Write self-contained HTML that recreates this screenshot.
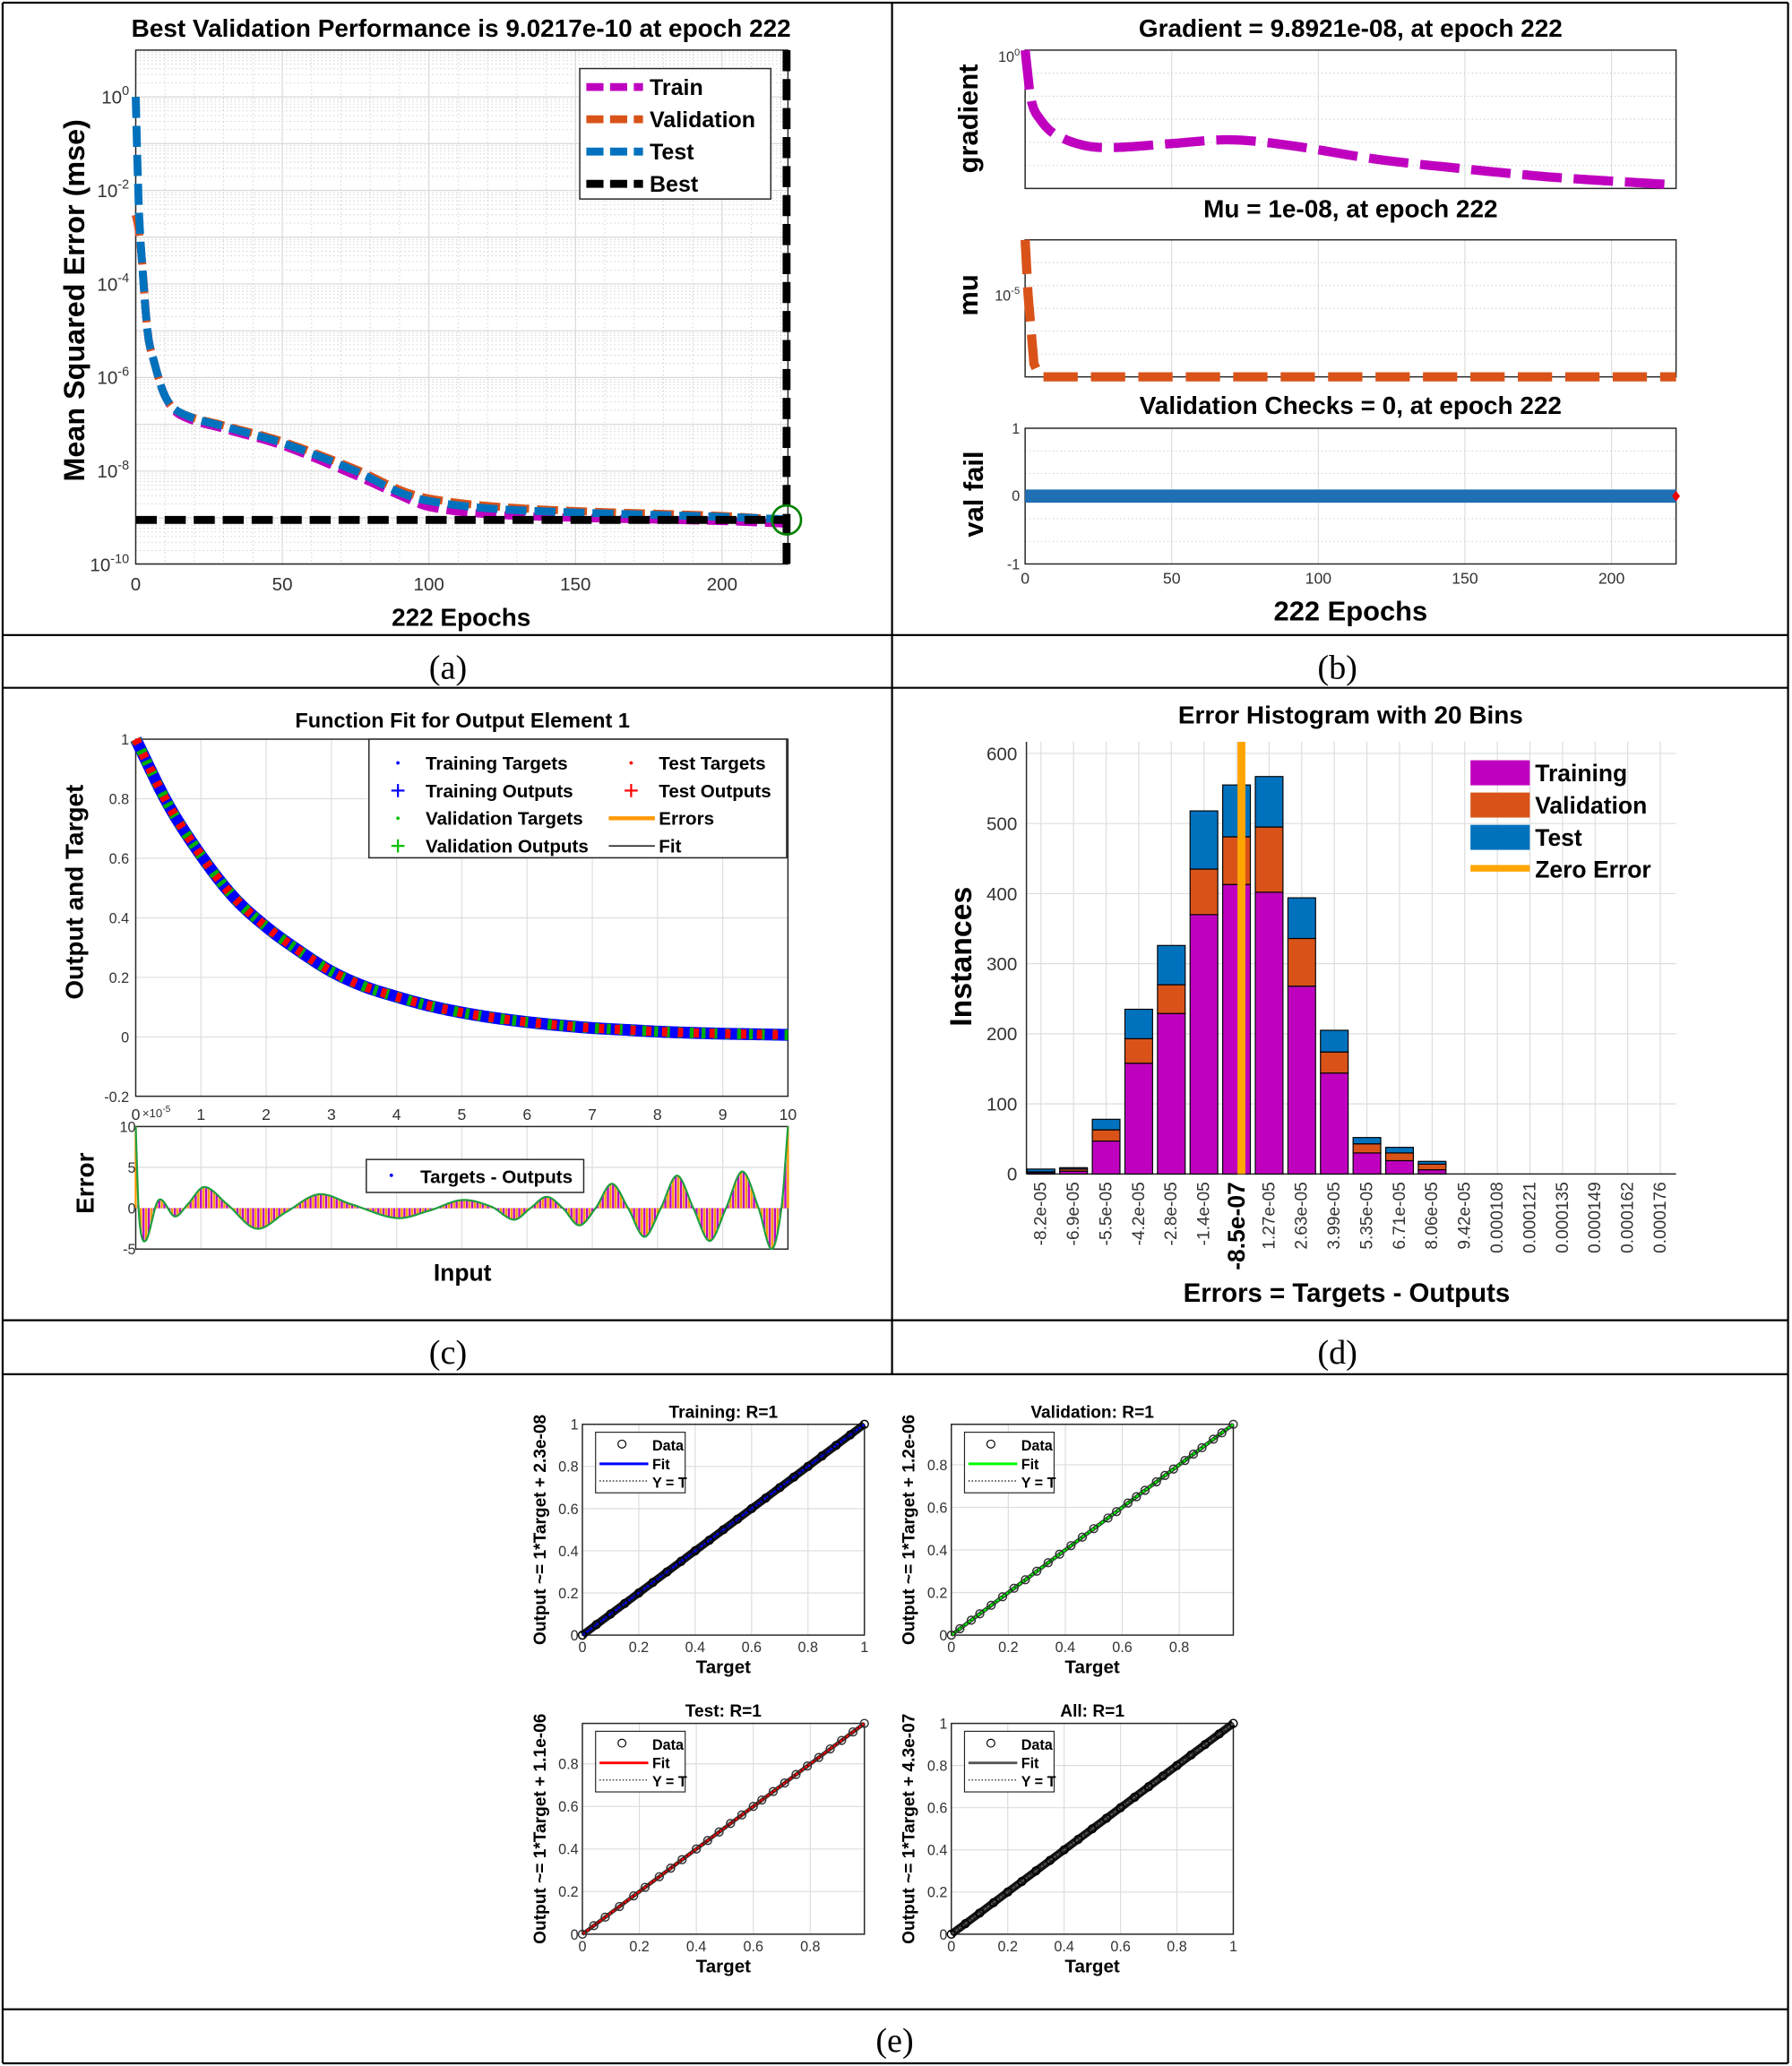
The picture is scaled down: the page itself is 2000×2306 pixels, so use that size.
<!DOCTYPE html>
<html><head><meta charset="utf-8"><title>Neural network training results</title>
<style>
html,body{margin:0;padding:0;background:#fff;}
svg{display:block;font-family:"Liberation Sans",sans-serif;}
</style></head>
<body>
<svg id="fig" xmlns="http://www.w3.org/2000/svg" width="2000" height="2306" viewBox="0 0 1360 1568"></svg>
<script>
// ---------- DATA ----------
const perfEpochs = [0,1,2,4,6,10,15,30,50,75,90,100,120,150,200,222];
const perfTest  = [1.0,5e-3,4e-4,1e-5,2.5e-6,4e-7,1.8e-7,9e-8,4e-8,1e-8,3.5e-9,2.3e-9,1.6e-9,1.3e-9,1.05e-9,9.3e-10];
const perfVal   = [3e-3,1.5e-3,4e-4,1e-5,2.5e-6,4e-7,1.8e-7,9.5e-8,4.3e-8,1.1e-8,4e-9,2.6e-9,1.8e-9,1.4e-9,1.1e-9,9.02e-10];
const perfTrain = [3e-3,1.5e-3,4e-4,1e-5,2.5e-6,4e-7,1.6e-7,8e-8,3.5e-8,8e-9,3e-9,1.7e-9,1.2e-9,1e-9,8.5e-10,7.5e-10];
const bestVal = 9.0217e-10;
const bestEpoch = 222;
const perfXTicks = [0,50,100,150,200];
const perfYTicks = [0,-2,-4,-6,-8,-10];

const gradEpochs = [0,2,5,10,20,30,50,70,90,120,150,180,222];
const gradVals = [1,3e-3,3e-4,5e-5,1.3e-5,1e-5,1.6e-5,2.5e-5,1.3e-5,2.5e-6,8e-7,3e-7,1.2e-7];
const muEpochs = [0,1,3,5,222];
const muVals = [1e-3,1e-5,3e-8,1e-8,1e-8];
const valFailEpochs = [0,222];
const valFailVals = [0,0];

const fitX = [0,0.5,1,1.5,2,2.5,3,3.5,4,4.5,5,5.5,6,6.5,7,7.5,8,8.5,9,9.5,10];
const fitY = [1,0.78,0.61,0.47,0.37,0.29,0.22,0.17,0.135,0.105,0.082,0.064,0.05,0.039,0.03,0.024,0.018,0.014,0.011,0.009,0.007];
const errX = [0,0.05,0.15,0.35,0.6,0.8,1.05,1.4,1.85,2.3,2.8,3.3,4.0,4.5,5.0,5.45,5.8,6.05,6.3,6.55,6.8,7.05,7.3,7.55,7.8,8.05,8.3,8.55,8.8,9.05,9.3,9.55,9.75,9.9,10];
const errY = [10,-1,-4,1.0,-1.0,0.5,2.6,0.5,-2.5,-0.5,1.7,0.5,-1.2,-0.3,1.0,0.2,-1.4,0,1.4,0,-2.1,0,3.0,0,-3.5,0,4.0,0,-4.0,0,4.5,0,-5,0,10];
const fitXTicks = [0,1,2,3,4,5,6,7,8,9,10];
const fitYTicks = [1,0.8,0.6,0.4,0.2,0,-0.2];
const errYTicks = [10,5,0,-5];

const histBinLabels = ['-8.2e-05','-6.9e-05','-5.5e-05','-4.2e-05','-2.8e-05','-1.4e-05','-8.5e-07','1.27e-05','2.63e-05','3.99e-05','5.35e-05','6.71e-05','8.06e-05','9.42e-05','0.000108','0.000121','0.000135','0.000149','0.000162','0.000176'];
const histTrain = [2,4,47,158,229,370,413,402,268,144,30,19,6,0,0,0,0,0,0,0];
const histVal   = [1,3,16,35,41,65,68,93,68,30,13,11,8,0,0,0,0,0,0,0];
const histTest  = [4,2,15,42,56,83,74,72,58,31,9,8,4,0,0,0,0,0,0,0];
const histYTicks = [0,100,200,300,400,500,600];
const zeroErrorBin = 6.15;

const regTicks = [0,0.2,0.4,0.6,0.8,1];
const regTrainT = [0,0.05,0.1,0.15,0.2,0.25,0.3,0.35,0.4,0.45,0.5,0.55,0.6,0.65,0.7,0.75,0.8,0.85,0.9,0.95,1];
const regValT = [0,0.03,0.07,0.1,0.14,0.18,0.22,0.26,0.3,0.34,0.38,0.42,0.46,0.5,0.55,0.58,0.62,0.65,0.68,0.72,0.75,0.78,0.82,0.85,0.88,0.92,0.95,0.99];
const regTestT = [0,0.04,0.08,0.13,0.18,0.22,0.27,0.31,0.35,0.4,0.44,0.48,0.52,0.56,0.6,0.63,0.67,0.71,0.75,0.79,0.83,0.87,0.91,0.95,0.99];
const regAllT = [0,0.05,0.1,0.15,0.2,0.25,0.3,0.35,0.4,0.45,0.5,0.55,0.6,0.65,0.7,0.75,0.8,0.85,0.9,0.95,1];

// ---------- HELPERS ----------
const NS='http://www.w3.org/2000/svg';
const svg=document.getElementById('fig');
function mk(tag,attrs,parent){const e=document.createElementNS(NS,tag);for(const k in attrs)e.setAttribute(k,attrs[k]);(parent||svg).appendChild(e);return e;}
function T(x,y,s,size,opts){opts=opts||{};const e=mk('text',{x:x,y:y,'font-size':size,'text-anchor':opts.a||'middle',fill:opts.fill||'#000','font-weight':opts.w||'normal'},opts.p);if(opts.rot!==undefined)e.setAttribute('transform','rotate('+opts.rot+' '+x+' '+y+')');if(opts.fam)e.setAttribute('font-family',opts.fam);e.textContent=s;return e;}
function pow10(x,y,exp,size,p){const e=mk('text',{x:x,y:y,'font-size':size,'text-anchor':'end',fill:'#333'},p);const a=mk('tspan',{},e);a.textContent='10';const b=mk('tspan',{dy:-size*0.45,'font-size':size*0.7},e);b.textContent=exp;return e;}
function line(x1,y1,x2,y2,st,p){return mk('line',{x1:x1,y1:y1,x2:x2,y2:y2,stroke:st.c||'#000','stroke-width':st.w||1,'stroke-dasharray':st.d||'none'},p);}
// Catmull-Rom style cubic interpolation
function smooth(xs,ys,x){const n=xs.length;if(x<=xs[0])return ys[0];if(x>=xs[n-1])return ys[n-1];
  let i=1;while(x>xs[i])i++;const x0=xs[i-1],x1=xs[i],y0=ys[i-1],y1=ys[i];const h=x1-x0;
  const m0=i-2>=0?(y1-ys[i-2])/(x1-xs[i-2]):(y1-y0)/h;const m1=i+1<n?(ys[i+1]-y0)/(xs[i+1]-x0):(y1-y0)/h;
  const t=(x-x0)/h,t2=t*t,t3=t2*t;return (2*t3-3*t2+1)*y0+(t3-2*t2+t)*h*m0+(-2*t3+3*t2)*y1+(t3-t2)*h*m1;}
function pathSmooth(xs,ys,fx,fy,logY,N){N=N||300;const yy=logY?ys.map(v=>Math.log10(v)):ys;let d='';const a=xs[0],b=xs[xs.length-1];
  for(let k=0;k<=N;k++){const x=a+(b-a)*k/N;let v=smooth(xs,yy,x);if(logY)v=Math.pow(10,v);d+=(k?'L':'M')+fx(x).toFixed(2)+' '+fy(v).toFixed(2)+' ';}return d;}
function pathFrom(xs,ys,fx,fy){return xs.map((v,i)=>(i?'L':'M')+fx(v).toFixed(2)+' '+fy(ys[i]).toFixed(2)).join(' ');}

// ---------- FRAME / TABLE ----------
const frame=mk('g',{});


[[2,2,1357,2],[2,482,1357,482],[2,522,1357,522],[2,1002,1357,1002],[2,1043,1357,1043],[2,1525,1357,1525],[2,1566,1357,1566],[2,2,2,1566],[1357,2,1357,1566],[677,2,677,1043]].forEach(s=>line(s[0],s[1],s[2],s[3],{c:'#000',w:1.5},frame));
const capA=T(340,515,'(a)',26,{fam:'"Liberation Serif",serif'});


const capB=T(1015,515,'(b)',26,{fam:'"Liberation Serif",serif'});


const capC=T(340,1035,'(c)',26,{fam:'"Liberation Serif",serif'});


const capD=T(1015,1035,'(d)',26,{fam:'"Liberation Serif",serif'});


const capE=T(679,1557,'(e)',26,{fam:'"Liberation Serif",serif'});



// ---------- PANEL A ----------
const gA=mk('g',{});


const aL=103,aR=598,aT=38,aB=428;
const xA=e=>aL+e*2.225;
const yA=v=>aT+(1-Math.log10(v))*35.5;
for(let d=-10;d<=0;d++){for(let k=2;k<=9;k++){const y=yA(k*Math.pow(10,d));line(aL,y,aR,y,{c:'#ccc',w:0.6,d:'1 2'},gA);}
  const y=yA(Math.pow(10,d));line(aL,y,aR,y,{c:'#d8d8d8',w:0.8},gA);}
for(let e=10;e<=220;e+=10){line(xA(e),aT,xA(e),aB,{c:e%50===0?'#d8d8d8':'#ccc',w:e%50===0?0.8:0.6,d:e%50===0?'none':'1 2'},gA);}
mk('rect',{x:aL,y:aT,width:aR-aL,height:aB-aT,fill:'none',stroke:'#262626','stroke-width':1},gA);
perfXTicks.forEach(t=>{const e=T(xA(t),448,String(t),14,{fill:'#333',p:gA});});
perfYTicks.forEach(d=>{const e=pow10(98,yA(Math.pow(10,d))+5,String(d),14,gA);});
const perfSeries=[[perfTrain,'#bf00bf','train-line'],[perfVal,'#d95319','validation-line'],[perfTest,'#0072bd','test-line']];
perfSeries.forEach(s=>{const p=mk('path',{d:pathSmooth(perfEpochs,s[0],xA,yA,true,400),fill:'none',stroke:s[1],'stroke-width':6,'stroke-dasharray':'16 6'},gA);

});
const bestH=line(aL,yA(bestVal),xA(bestEpoch),yA(bestVal),{c:'#000',w:6,d:'16 6'},gA);


const bestV=line(xA(bestEpoch),aT,xA(bestEpoch),aB,{c:'#000',w:6,d:'16 6'},gA);


const bestC=mk('circle',{cx:xA(bestEpoch),cy:yA(bestVal),r:11,fill:'none',stroke:'#008000','stroke-width':1.8},gA);


const legA=mk('g',{},gA);


mk('rect',{x:440,y:52,width:145,height:99,fill:'#fff',stroke:'#262626','stroke-width':1},legA);
[['Train','#bf00bf'],['Validation','#d95319'],['Test','#0072bd'],['Best','#000']].forEach((r,i)=>{const y=66+i*24.5;line(445,y,488,y,{c:r[1],w:6,d:'13 5'},legA);T(493,y+6,r[0],17,{a:'start',w:'bold',p:legA});});
const tA=T(350,28,'Best Validation Performance is 9.0217e-10 at epoch 222',19,{w:'bold',p:gA});


const xlA=T(350,475,'222 Epochs',19,{w:'bold',p:gA});


const ylA=T(64,228,'Mean Squared Error  (mse)',22,{w:'bold',rot:-90,p:gA});



// ---------- PANEL B ----------
const gB=mk('g',{});


const bL=778,bR=1272;
const xB=e=>bL+e*2.2252;
const yG=v=>38+(-Math.log10(v))/7.1*105;
const yM=v=>182+(-3-Math.log10(v))/5*104;
const yV=v=>376.5-v*51.5;
const subB=[[38,143],[182,286],[325,428]];
subB.forEach((s,si)=>{[50,100,150,200].forEach(t=>line(xB(t),s[0],xB(t),s[1],{c:'#ddd',w:0.8},gB));
  for(let k=1;k<6;k++){const y=s[0]+(s[1]-s[0])*k/6;line(bL,y,bR,y,{c:'#ccc',w:0.7,d:'1 2'},gB);}
  mk('rect',{x:bL,y:s[0],width:bR-bL,height:s[1]-s[0],fill:'none',stroke:'#262626','stroke-width':1},gB);});
const gradPath=mk('path',{d:pathSmooth(gradEpochs,gradVals,xB,yG,true,300),fill:'none',stroke:'#bf00bf','stroke-width':7,'stroke-dasharray':'30 9'},gB);


const muPath=mk('path',{d:pathFrom(muEpochs,muVals,xB,yM),fill:'none',stroke:'#d95319','stroke-width':7,'stroke-dasharray':'26 10'},gB);


const vfPath=mk('path',{d:pathFrom(valFailEpochs,valFailVals,xB,yV),fill:'none',stroke:'#1f6fb4','stroke-width':10},gB);


const vfEnd=mk('path',{d:'M'+(xB(222)-3)+' '+yV(0)+' l3 -4 l3 4 l-3 4z',fill:'#e00'},gB);


[0,50,100,150,200].forEach(t=>{const e=T(xB(t),443,String(t),12,{fill:'#333',p:gB});});
pow10(774,47,'0',11,gB);
pow10(774,228,'-5',11,gB);
T(774,329,'1',11,{a:'end',fill:'#333',p:gB});
T(774,380,'0',11,{a:'end',fill:'#333',p:gB});
T(774,432,'-1',11,{a:'end',fill:'#333',p:gB});
const tB1=T(1025,28,'Gradient = 9.8921e-08, at epoch 222',19,{w:'bold',p:gB});


const tB2=T(1025,165,'Mu = 1e-08, at epoch 222',19,{w:'bold',p:gB});


const tB3=T(1025,314,'Validation Checks = 0, at epoch 222',19,{w:'bold',p:gB});


T(742,90,'gradient',21,{w:'bold',rot:-90,p:gB});
T(742,224,'mu',21,{w:'bold',rot:-90,p:gB});
T(746,375,'val fail',21,{w:'bold',rot:-90,p:gB});
const xlB=T(1025,471,'222 Epochs',21,{w:'bold',p:gB});



// ---------- PANEL C ----------
const gC=mk('g',{});


const cL=103,cR=598,cT=561,cB=832,eT=855,eB=948;
const xC=x=>cL+x*49.5;
const yC=v=>787-v*226;
const yE=e=>917-e*6.2;
fitXTicks.forEach(t=>{line(xC(t),cT,xC(t),cB,{c:'#ddd',w:0.8},gC);line(xC(t),eT,xC(t),eB,{c:'#ddd',w:0.8},gC);});
fitYTicks.forEach(t=>line(cL,yC(t),cR,yC(t),{c:'#ddd',w:0.8},gC));
errYTicks.forEach(t=>line(cL,yE(t),cR,yE(t),{c:'#ddd',w:0.8},gC));
mk('rect',{x:cL,y:cT,width:cR-cL,height:cB-cT,fill:'none',stroke:'#262626','stroke-width':1},gC);
mk('rect',{x:cL,y:eT,width:cR-cL,height:eB-eT,fill:'none',stroke:'#262626','stroke-width':1},gC);
const fitD=pathSmooth(fitX,fitY,xC,yC,false,300);
const fitBlue=mk('path',{d:fitD,fill:'none',stroke:'#0000ff','stroke-width':9},gC);


const fitGreen=mk('path',{d:fitD,fill:'none',stroke:'#00b000','stroke-width':8,'stroke-dasharray':'3 6'},gC);


const fitRed=mk('path',{d:fitD,fill:'none',stroke:'#ff0000','stroke-width':7,'stroke-dasharray':'4 8'},gC);


const stems=mk('g',{},gC);


for(let i=0;i<=250;i++){const x=i*0.04;const v=smooth(errX,errY,x);line(xC(x),yE(0),xC(x),yE(v),{c:i%2?'#bf00bf':'#ff9900',w:1.6},stems);}
const errLine=mk('path',{d:pathSmooth(errX,errY,xC,yE,false,500),fill:'none',stroke:'#20a040','stroke-width':1.5},gC);


fitXTicks.forEach(t=>{if(t>0)T(xC(t),850,String(t),12,{fill:'#333',p:gC});});
T(103,850,'0',12,{fill:'#333',p:gC});
const sci=mk('text',{x:108,y:848,'font-size':9,fill:'#333'},gC);
const sci1=mk('tspan',{},sci);sci1.textContent='×10';
const sci2=mk('tspan',{dy:-4,'font-size':7},sci);sci2.textContent='-5';
fitYTicks.forEach(t=>T(98,yC(t)+4,String(t),11,{a:'end',fill:'#333',p:gC}));
errYTicks.forEach(t=>T(103,yE(t)+4,String(t),11,{a:'end',fill:'#333',p:gC}));
const legC=mk('g',{},gC);


mk('rect',{x:280,y:561,width:317,height:90,fill:'#fff',stroke:'#262626','stroke-width':1},legC);
[['Training Targets',0],['Training Outputs',1],['Validation Targets',2],['Validation Outputs',3]].forEach((r,i)=>{const y=579+i*21;
  const c=i<2?'#0000ff':'#00c000';
  if(i%2===0)mk('circle',{cx:302,cy:y,r:1.3,fill:c},legC);else{line(297,y,307,y,{c:c,w:1.5},legC);line(302,y-5,302,y+5,{c:c,w:1.5},legC);}
  T(323,y+5,r[0],14,{a:'start',w:'bold',p:legC});});
mk('circle',{cx:479,cy:579,r:1.3,fill:'#f00'},legC);
line(474,600,484,600,{c:'#f00',w:1.5},legC);line(479,595,479,605,{c:'#f00',w:1.5},legC);
line(462,621,497,621,{c:'#ff9900',w:3},legC);
line(462,642,497,642,{c:'#000',w:1},legC);
T(500,584,'Test Targets',14,{a:'start',w:'bold',p:legC});
T(500,605,'Test Outputs',14,{a:'start',w:'bold',p:legC});
T(500,626,'Errors',14,{a:'start',w:'bold',p:legC});
T(500,647,'Fit',14,{a:'start',w:'bold',p:legC});
const legC2=mk('g',{},gC);


mk('rect',{x:278,y:880,width:165,height:25,fill:'#fff',stroke:'#262626','stroke-width':1},legC2);
mk('circle',{cx:297,cy:892,r:1.3,fill:'#00f'},legC2);
T(319,898,'Targets - Outputs',14,{a:'start',w:'bold',p:legC2});
const tC=T(351,552,'Function Fit for Output Element 1',16,{w:'bold',p:gC});


T(63,677,'Output and Target',19,{w:'bold',rot:-90,p:gC});
T(71,898,'Error',19,{w:'bold',rot:-90,p:gC});
const xlC=T(351,972,'Input',18,{w:'bold',p:gC});



// ---------- PANEL D ----------
const gD=mk('g',{});


const dL=779,dR=1272,dT=563,dB=891;
const xD=i=>790+i*24.74;
const yD=v=>dB-v*0.532;
histBinLabels.forEach((l,i)=>line(xD(i),dT,xD(i),dB,{c:'#ddd',w:0.8},gD));
histYTicks.forEach(t=>line(dL,yD(t),dR,yD(t),{c:'#ddd',w:0.8},gD));
line(dL,dT,dL,dB,{c:'#262626',w:1},gD);line(dL,dB,dR,dB,{c:'#262626',w:1},gD);
histBinLabels.forEach((l,i)=>{const x=xD(i)-10.5;let b=0;
  [[histTrain[i],'#bf00bf'],[histVal[i],'#d95319'],[histTest[i],'#0072bd']].forEach(s=>{if(s[0]>0){const r=mk('rect',{x:x,y:yD(b+s[0]),width:21,height:s[0]*0.532,fill:s[1],stroke:'#000','stroke-width':0.8},gD);
    
    }b+=s[0];});
  const big=i===6;
  const tl=T(xD(i)+(big?6:4),897,l,big?18:13,{a:'end',rot:-90,w:big?'bold':'normal',fill:big?'#000':'#333',p:gD});
  
  });
const zl=line(xD(zeroErrorBin),dT,xD(zeroErrorBin),dB,{c:'#ffa500',w:6},gD);


histYTicks.forEach(t=>T(772,yD(t)+5,String(t),14,{a:'end',fill:'#333',p:gD}));
const legD=mk('g',{},gD);


[['Training','#bf00bf'],['Validation','#d95319'],['Test','#0072bd']].forEach((r,i)=>{const y=577+i*24.5;mk('rect',{x:1116,y:y,width:45,height:19,fill:r[1]},legD);T(1165,y+16,r[0],18,{a:'start',w:'bold',p:legD});});
line(1116,659,1161,659,{c:'#ffa500',w:5},legD);
T(1165,666,'Zero Error',18,{a:'start',w:'bold',p:legD});
const tD=T(1025,549,'Error Histogram with 20 Bins',19,{w:'bold',p:gD});


T(737,726,'Instances',23,{w:'bold',rot:-90,p:gD});
const xlD=T(1022,988,'Errors = Targets - Outputs',20,{w:'bold',p:gD});



// ---------- PANEL E ----------
const gE=mk('g',{});


const regs=[
 {L:442,T:1081,title:'Training: R=1',ylab:'Output ~= 1*Target + 2.3e-08',fit:'#0000ff',pts:regTrainT,ptc:'#000',dense:true,max:1,name:'training-regression'},
 {L:722,T:1081,title:'Validation: R=1',ylab:'Output ~= 1*Target + 1.2e-06',fit:'#00ff00',pts:regValT,ptc:'#333',dense:false,max:0.99,name:'validation-regression'},
 {L:442,T:1308,title:'Test: R=1',ylab:'Output ~= 1*Target + 1.1e-06',fit:'#ff0000',pts:regTestT,ptc:'#333',dense:false,max:0.99,name:'test-regression'},
 {L:722,T:1308,title:'All: R=1',ylab:'Output ~= 1*Target + 4.3e-07',fit:'#555',pts:regAllT,ptc:'#000',dense:true,max:1,name:'all-regression'}];
regs.forEach(r=>{const g=mk('g',{},gE);
  
  
  const W=214,H=160;const sx=v=>r.L+v/r.max*W;const sy=v=>r.T+H-v/r.max*H;
  regTicks.forEach(t=>{if(t<=r.max){line(sx(t),r.T,sx(t),r.T+H,{c:'#ddd',w:0.8},g);line(r.L,sy(t),r.L+W,sy(t),{c:'#ddd',w:0.8},g);
    T(sx(t),r.T+H+13,String(t),11,{fill:'#333',p:g});T(r.L-3,sy(t)+4,String(t),11,{a:'end',fill:'#333',p:g});}});
  mk('rect',{x:r.L,y:r.T,width:W,height:H,fill:'none',stroke:'#262626','stroke-width':1},g);
  line(sx(0),sy(0),sx(r.max),sy(r.max),{c:r.dense?'#111':'#333',w:r.dense?6:3},g);
  line(sx(0),sy(0),sx(r.max),sy(r.max),{c:r.fit,w:1.5},g);
  line(sx(0),sy(0),sx(r.max),sy(r.max),{c:'#000',w:0.8,d:'1 2'},g);
  r.pts.forEach(v=>{const c=mk('circle',{cx:sx(v),cy:sy(v),r:3,fill:'none',stroke:r.ptc,'stroke-width':1},g);
    
    });
  T(r.L+W/2,r.T-5,r.title,13,{w:'bold',p:g});
  T(r.L+W/2,r.T+H+29,'Target',14,{w:'bold',p:g});
  T(r.L-28,r.T+H/2,r.ylab,13,{w:'bold',rot:-90,p:g});
  const lg=mk('g',{},g);
  
  
  mk('rect',{x:r.L+10,y:r.T+6,width:68,height:46,fill:'#fff',stroke:'#262626','stroke-width':0.8},lg);
  mk('circle',{cx:r.L+30,cy:r.T+15,r:3,fill:'none',stroke:'#000','stroke-width':0.8},lg);
  line(r.L+13,r.T+30,r.L+50,r.T+30,{c:r.fit,w:2},lg);
  line(r.L+13,r.T+43,r.L+50,r.T+43,{c:'#000',w:0.8,d:'1 1.5'},lg);
  T(r.L+53,r.T+20,'Data',11,{a:'start',w:'bold',p:lg});
  T(r.L+53,r.T+34,'Fit',11,{a:'start',w:'bold',p:lg});
  T(r.L+53,r.T+48,'Y = T',11,{a:'start',w:'bold',p:lg});
});
</script>
</body></html>
